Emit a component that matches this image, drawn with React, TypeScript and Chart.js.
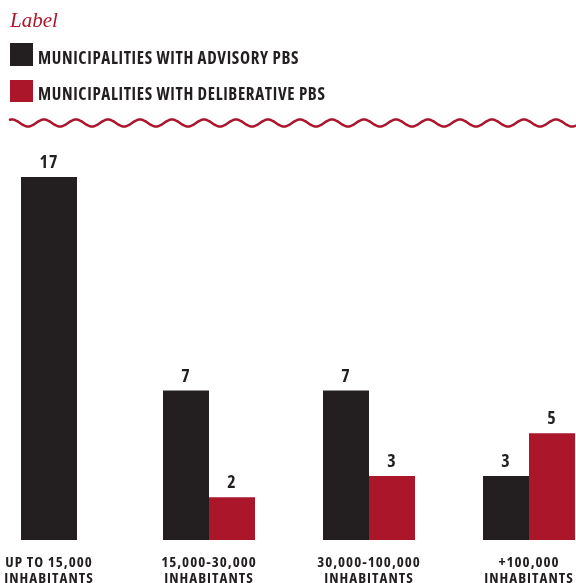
import React, { useEffect, useRef } from 'react';
import { Chart, registerables } from 'chart.js';

Chart.register(...registerables);

const titleText = 'Label';
const seriesNames = ['MUNICIPALITIES WITH ADVISORY PBS', 'MUNICIPALITIES WITH DELIBERATIVE PBS'];
const categories = [
  ['UP TO 15,000', 'INHABITANTS'],
  ['15,000-30,000', 'INHABITANTS'],
  ['30,000-100,000', 'INHABITANTS'],
  ['+100,000', 'INHABITANTS'],
];
const advisory = [17, 7, 7, 3];
const deliberative = [null, 2, 3, 5];
const yMax = 17;

const DARK = '#231f20';
const RED = '#ab162b';
const COND = '"Open Sans", sans-serif';

const spacingPlugin = {
  id: 'spacing',
  beforeLayout(chart: any) {
    chart.ctx.letterSpacing = '1px';
  },
  beforeDraw(chart: any) {
    chart.ctx.letterSpacing = '1px';
  },
};

const valueLabels = {
  id: 'valueLabels',
  afterDatasetsDraw(chart: any) {
    const ctx = chart.ctx;
    ctx.save();
    ctx.letterSpacing = '1px';
    ctx.font = `bold condensed 18px ${COND}`;
    ctx.fillStyle = DARK;
    ctx.textAlign = 'center';
    ctx.textBaseline = 'alphabetic';
    chart.data.datasets.forEach((ds: any, i: number) => {
      const meta = chart.getDatasetMeta(i);
      meta.data.forEach((bar: any, j: number) => {
        const v = ds.data[j];
        if (v === null || v === undefined) return;
        ctx.fillText(String(v), bar.x, bar.y - 9);
      });
    });
    ctx.restore();
  },
};

function wavePath(x0: number, x1: number, cy: number, amp: number, period: number, phase: number) {
  let d = '';
  for (let x = x0; x <= x1; x += 1) {
    const y = cy + amp * Math.sin((2 * Math.PI * (x - phase)) / period);
    d += (x === x0 ? 'M' : 'L') + x + ' ' + y.toFixed(2) + ' ';
  }
  return d;
}

export default function App() {
  const ref = useRef<HTMLCanvasElement>(null);

  useEffect(() => {
    if (!ref.current) return;
    const chart = new Chart(ref.current, {
      type: 'bar',
      data: {
        labels: categories as any,
        datasets: [
          { label: seriesNames[0], data: advisory, backgroundColor: DARK, clip: false as any },
          { label: seriesNames[1], data: deliberative as any, backgroundColor: RED, clip: false as any },
        ],
      },
      options: {
        responsive: false,
        animation: false,
        maintainAspectRatio: false,
        datasets: {
          bar: {
            skipNull: true,
            categoryPercentage: 0.575,
            barPercentage: 1,
            maxBarThickness: 56,
            borderWidth: 0,
          },
        } as any,
        layout: { padding: { left: 49, right: 47, top: 177, bottom: 4 } },
        plugins: { legend: { display: false }, tooltip: { enabled: false } },
        scales: {
          x: {
            offset: false,
            grid: { display: false, drawTicks: false },
            border: { display: false },
            afterFit(scale: any) {
              scale.paddingLeft = 0;
              scale.paddingRight = 0;
            },
            ticks: {
              color: DARK,
              font: { family: COND, size: 15, weight: 'bold condensed', lineHeight: 1.1 },
              padding: 14,
              maxRotation: 0,
              autoSkip: false,
            },
          },
          y: { display: false, min: 0, max: yMax },
        },
      },
      plugins: [spacingPlugin, valueLabels],
    });
    return () => chart.destroy();
  }, []);

  const legendText: React.CSSProperties = {
    position: 'absolute',
    left: 38,
    fontFamily: COND,
    fontWeight: 700,
    fontStretch: '75%',
    fontSize: 17,
    lineHeight: '17px',
    letterSpacing: '0.65px',
    color: DARK,
    whiteSpace: 'nowrap',
  };

  return (
    <div
      style={{
        position: 'absolute',
        left: 0,
        top: 0,
        width: 576,
        height: 583,
        overflow: 'hidden',
        background: '#ffffff',
      }}
    >
      <canvas ref={ref} width={576} height={605} style={{ position: 'absolute', left: 0, top: 0 }} />
      <div
        style={{
          position: 'absolute',
          left: 10,
          top: 10,
          fontFamily: '"Liberation Serif", "DejaVu Serif", serif',
          fontStyle: 'italic',
          fontSize: 21,
          lineHeight: '21px',
          color: RED,
        }}
      >
        {titleText}
      </div>
      <div style={{ position: 'absolute', left: 10, top: 43, width: 23, height: 23, background: DARK }} />
      <div style={{ ...legendText, top: 49 }}>{seriesNames[0]}</div>
      <div style={{ position: 'absolute', left: 10, top: 80, width: 23, height: 22, background: RED }} />
      <div style={{ ...legendText, top: 85 }}>{seriesNames[1]}</div>
      <svg width={576} height={30} style={{ position: 'absolute', left: 0, top: 108 }}>
        <path d={wavePath(9, 576, 15, 3.5, 32, 20)} fill="none" stroke={RED} strokeWidth={2.5} />
      </svg>
    </div>
  );
}
